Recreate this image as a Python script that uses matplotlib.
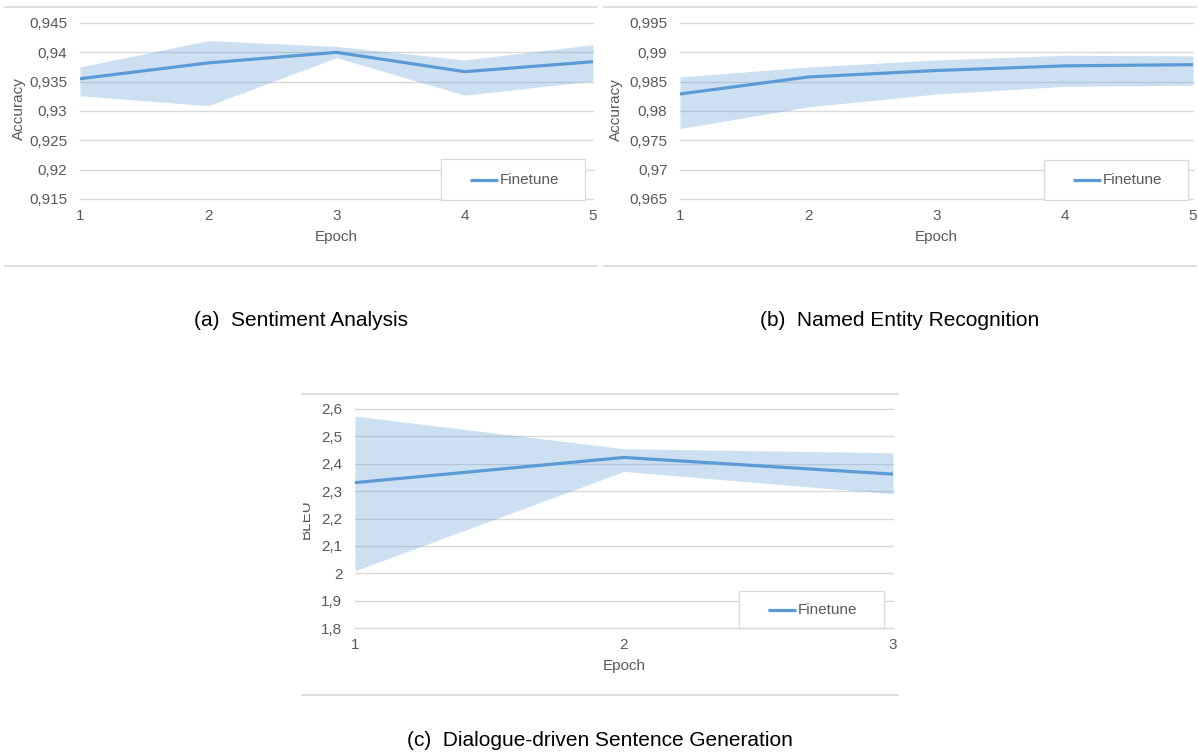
import matplotlib
matplotlib.use("Agg")
import matplotlib.pyplot as plt
from matplotlib.ticker import FuncFormatter, FixedLocator
from matplotlib.transforms import Bbox, TransformedBbox
from matplotlib.lines import Line2D
from matplotlib.patches import Rectangle

plt.rcParams['font.family'] = ['Liberation Sans', 'DejaVu Sans']

# ---- data -------------------------------------------------------------
sa_epochs = [1, 2, 3, 4, 5]
sa_mean = [0.9355, 0.9382, 0.9400, 0.9367, 0.9384]
sa_upper = [0.9375, 0.9420, 0.9410, 0.9387, 0.9413]
sa_lower = [0.9326, 0.9309, 0.9391, 0.9327, 0.9351]
sa_yticks = [0.915, 0.92, 0.925, 0.93, 0.935, 0.94, 0.945]

ner_epochs = [1, 2, 3, 4, 5]
ner_mean = [0.9829, 0.9858, 0.9869, 0.9877, 0.9879]
ner_upper = [0.9858, 0.9875, 0.9887, 0.9895, 0.9894]
ner_lower = [0.9770, 0.9807, 0.9829, 0.9842, 0.9844]
ner_yticks = [0.965, 0.97, 0.975, 0.98, 0.985, 0.99, 0.995]

dsg_epochs = [1, 2, 3]
dsg_mean = [2.331, 2.423, 2.362]
dsg_upper = [2.574, 2.455, 2.440]
dsg_lower = [2.009, 2.372, 2.290]
dsg_yticks = [1.8, 1.9, 2.0, 2.1, 2.2, 2.3, 2.4, 2.5, 2.6]

series_name = "Finetune"
captions = ["(a)  Sentiment Analysis",
            "(b)  Named Entity Recognition",
            "(c)  Dialogue-driven Sentence Generation"]

# ---- style ------------------------------------------------------------
W, H = 1198, 754
BLUE = "#5B9BD5"
GRID = "#D9D9D9"
TXT = "#595959"
FS = 11

fig = plt.figure(figsize=(W / 100, H / 100), dpi=100)
fig.patch.set_facecolor("white")


def fx(x):
    return x / W


def fy(y):
    return 1 - y / H


def comma_fmt(v, _pos=None):
    s = f"{v:.3f}".rstrip("0").rstrip(".")
    return s.replace(".", ",")


def panel(box, xs, mean, lo, hi, yticks, ylabel, ylab_xy, leg, frame,
          caption, cap_y, clip_left=None):
    left, top, right, bottom = box
    ax = fig.add_axes([fx(left), fy(bottom), (right - left) / W, (bottom - top) / H])
    ax.set_xlim(xs[0], xs[-1])
    ax.set_ylim(yticks[0], yticks[-1])
    ax.set_axisbelow(True)
    ax.fill_between(xs, lo, hi, color=BLUE, alpha=0.3, linewidth=0, zorder=2)
    ax.plot(xs, mean, color=BLUE, linewidth=2.3, zorder=3,
            solid_capstyle="butt")
    ax.yaxis.set_major_locator(FixedLocator(yticks))
    ax.yaxis.set_major_formatter(FuncFormatter(comma_fmt))
    ax.set_xticks(xs)
    ax.grid(axis="y", color=GRID, linewidth=1.0)
    for gl in ax.get_ygridlines():
        gl.set_clip_on(False)
    for s in ax.spines.values():
        s.set_visible(False)
    ax.tick_params(axis="both", length=0, labelsize=FS, labelcolor=TXT)
    ax.tick_params(axis="y", pad=9)
    ax.tick_params(axis="x", pad=7)
    ax.set_xlabel("Epoch", fontsize=FS, color=TXT, labelpad=5)

    # y label, placed in figure space
    t = fig.text(fx(ylab_xy[0]), fy(ylab_xy[1]), ylabel, rotation=90,
                 ha="center", va="center", fontsize=FS, color=TXT)
    if clip_left is not None:
        t.set_clip_box(TransformedBbox(
            Bbox([[fx(clip_left), 0], [1, 1]]), fig.transFigure))
        t.set_clip_on(True)

    # legend box
    lx0, ly0, lx1, ly1 = leg
    fig.add_artist(Rectangle((fx(lx0), fy(ly1)), (lx1 - lx0) / W, (ly1 - ly0) / H,
                             transform=fig.transFigure, facecolor="white",
                             edgecolor=GRID, linewidth=0.9, zorder=5))
    cy = (ly0 + ly1) / 2
    fig.add_artist(Line2D([fx(lx0 + 29), fx(lx0 + 57)], [fy(cy), fy(cy)],
                          transform=fig.transFigure, color=BLUE,
                          linewidth=2.3, zorder=6, solid_capstyle="butt"))
    fig.text(fx(lx0 + 59), fy(cy), series_name, ha="left", va="center",
             fontsize=FS, color=TXT, zorder=6)

    # chart frame lines
    fx0, fx1, ftop, fbot = frame
    for yy in (ftop, fbot):
        fig.add_artist(Line2D([fx(fx0), fx(fx1)], [fy(yy), fy(yy)],
                              transform=fig.transFigure, color=GRID,
                              linewidth=1.2, zorder=1))

    fig.text(fx((fx0 + fx1) / 2), fy(cap_y), caption, ha="center",
             va="center", fontsize=15, color="black")
    return ax


panel((80, 23, 593, 199), sa_epochs, sa_mean, sa_lower, sa_upper, sa_yticks,
      "Accuracy", (19, 109), (441, 159, 585, 200), (5, 597, 7, 266),
      captions[0], 320)

panel((680, 23, 1193, 199), ner_epochs, ner_mean, ner_lower, ner_upper,
      ner_yticks, "Accuracy", (616, 110), (1044, 160, 1188, 200),
      (604, 1196, 7, 266), captions[1], 320)

panel((355, 409, 893, 628), dsg_epochs, dsg_mean, dsg_lower, dsg_upper,
      dsg_yticks, "BLEU", (306, 519), (739, 591, 884, 628),
      (302, 898, 394, 695), captions[2], 740, clip_left=303)

fig.savefig("out.png", dpi=100)
